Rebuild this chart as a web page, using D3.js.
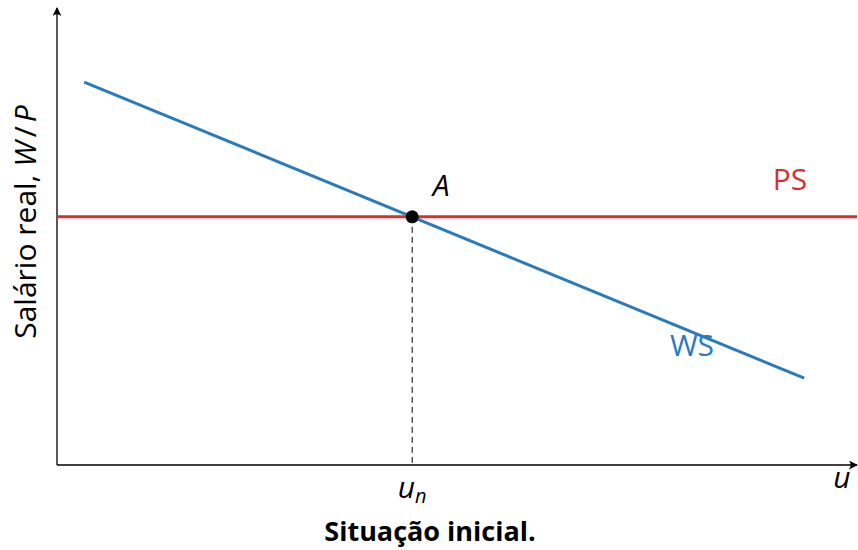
<!DOCTYPE html>
<html>
<head>
<meta charset="utf-8">
<script src="https://cdn.jsdelivr.net/npm/d3@7"></script>
<style>
  body { margin: 0; background: #fff; }
  text { font-family: "Open Sans", "DejaVu Sans", sans-serif; }
</style>
</head>
<body>
<svg id="chart" width="858" height="550"></svg>
<script>
// curve endpoints in model units (u, W/P)
var wsU = [3.4, 93.4];
var wsW = [83.8, 19.0];
var psU = [0, 100];
var psW = [54.3, 54.3];
var eqPoint = [44.4, 54.3];
var labels = { ps: "PS", ws: "WS", point: "A", title: "Situação inicial." };

var colors = { ws: "#2b7bbb", ps: "#d62f2f", axis: "#000" };

var svg = d3.select("#chart");
var x = d3.scaleLinear().domain([0, 100]).range([57, 857]);
var y = d3.scaleLinear().domain([0, 100]).range([465, 8]);

// arrow head
svg.append("defs").append("marker")
    .attr("id", "arr")
    .attr("viewBox", "0 0 10 10")
    .attr("refX", 9).attr("refY", 5)
    .attr("markerWidth", 9).attr("markerHeight", 9)
    .attr("markerUnits", "userSpaceOnUse")
    .attr("orient", "auto")
  .append("path")
    .attr("d", "M0,0 Q4,5 0,10 L10,5 Z")
    .attr("fill", colors.axis);

// axes
svg.append("line")
    .attr("x1", x(0)).attr("y1", y(0))
    .attr("x2", x(0)).attr("y2", y(100))
    .attr("stroke", colors.axis).attr("stroke-width", 1.3)
    .attr("marker-end", "url(#arr)");
svg.append("line")
    .attr("x1", x(0)).attr("y1", y(0))
    .attr("x2", x(100)).attr("y2", y(0))
    .attr("stroke", colors.axis).attr("stroke-width", 1.3)
    .attr("marker-end", "url(#arr)");

// dashed drop line
svg.append("line")
    .attr("x1", x(eqPoint[0])).attr("y1", y(eqPoint[1]))
    .attr("x2", x(eqPoint[0])).attr("y2", y(0))
    .attr("stroke", "#000").attr("stroke-width", 1)
    .attr("stroke-dasharray", "6,4");

var line = d3.line().x(function(d) { return x(d[0]); }).y(function(d) { return y(d[1]); });

svg.append("path")
    .datum(d3.zip(psU, psW))
    .attr("d", line)
    .attr("fill", "none").attr("stroke", colors.ps).attr("stroke-width", 3);

svg.append("path")
    .datum(d3.zip(wsU, wsW))
    .attr("d", line)
    .attr("fill", "none").attr("stroke", colors.ws).attr("stroke-width", 3);

svg.append("circle")
    .attr("cx", x(eqPoint[0])).attr("cy", y(eqPoint[1]))
    .attr("r", 6.5).attr("fill", "#000");

// labels
var fs = 30;
svg.append("text").attr("x", x(eqPoint[0]) + 29).attr("y", 196)
    .attr("text-anchor", "middle").attr("font-size", fs).attr("font-style", "italic")
    .text(labels.point);
svg.append("text").attr("x", 790).attr("y", 190)
    .attr("text-anchor", "middle").attr("font-size", fs).attr("fill", colors.ps)
    .text(labels.ps);
svg.append("text").attr("x", 692).attr("y", 356)
    .attr("text-anchor", "middle").attr("font-size", fs).attr("fill", colors.ws)
    .text(labels.ws);

var un = svg.append("text").attr("x", x(eqPoint[0])).attr("y", 498)
    .attr("text-anchor", "middle").attr("font-size", fs).attr("font-style", "italic");
un.append("tspan").text("u");
un.append("tspan").attr("font-size", 20).attr("dy", 5).text("n");

svg.append("text").attr("x", 842).attr("y", 488)
    .attr("text-anchor", "middle").attr("font-size", fs).attr("font-style", "italic")
    .text("u");

var yl = svg.append("text")
    .attr("transform", "translate(36,222) rotate(-90)")
    .attr("text-anchor", "middle").attr("font-size", fs);
yl.append("tspan").text("Salário real, ");
yl.append("tspan").attr("font-style", "italic").text("W");
yl.append("tspan").attr("dx", 4).text("/");
yl.append("tspan").attr("dx", 4).attr("font-style", "italic").text("P");

svg.append("text").attr("x", 430).attr("y", 541)
    .attr("text-anchor", "middle").attr("font-size", 27).attr("font-weight", "bold")
    .text(labels.title);
</script>
</body>
</html>
